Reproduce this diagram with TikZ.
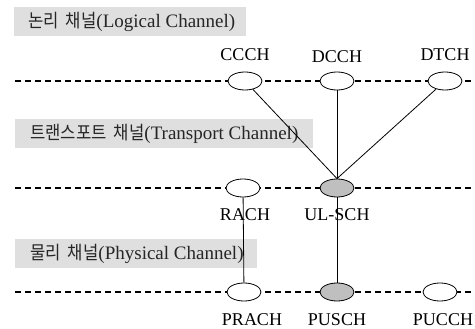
\documentclass[tikz,border=0pt]{standalone}
\usepackage{fontspec}
\usetikzlibrary{shapes.geometric}
\setmainfont{Liberation Serif}
\newfontfamily\kr[FakeStretch=0.9]{Noto Sans CJK KR}
\newcommand\krlabel[1]{{\kr\fontsize{18.5}{20}\selectfont\spaceskip=7pt #1}}
\begin{document}
\begin{tikzpicture}[x=1pt,y=-1pt,
  labelbox/.style={draw=none,fill=gray!25,minimum height=29pt,inner sep=0pt,anchor=north west},
  boxtext/.style={inner sep=0pt,anchor=west,font=\fontsize{19}{20}\selectfont,text=black!85},
  chan/.style={ellipse,draw,line width=0.8pt,fill=white,minimum width=34pt,minimum height=18pt,inner sep=0pt},
  shared/.style={chan,fill=gray!50},
  chlabel/.style={inner sep=0pt,font=\fontsize{18}{19}\selectfont},
  layer/.style={dashed,dash pattern=on 6pt off 4pt,line width=1.3pt},
  conn/.style={line width=0.8pt}]
\useasboundingbox (0,0) rectangle (475,329);
% label boxes
\node[labelbox,minimum width=232pt] (box1) at (14,7) {};
\node[boxtext] (t1) at ([xshift=14pt]box1.west) {\krlabel{논리 채널}(Logical Channel)};
\node[labelbox,minimum width=298pt] (box2) at (15,119) {};
\node[boxtext] (t2) at ([xshift=15pt]box2.west) {\krlabel{트랜스포트 채널}(Transport Channel)};
\node[labelbox,minimum width=242pt] (box3) at (15,239) {};
\node[boxtext] (t3) at ([xshift=15pt]box3.west) {\krlabel{물리 채널}(Physical Channel)};
% layer lines
\coordinate (l1a) at (15,81);  \coordinate (l1b) at (475,81);
\coordinate (l2a) at (15,188); \coordinate (l2b) at (475,188);
\coordinate (l3a) at (15,292); \coordinate (l3b) at (475,292);
\draw[layer] (l1a) -- (l1b);
\draw[layer] (l2a) -- (l2b);
\draw[layer] (l3a) -- (l3b);
% channels
\node[chan] (ccch) at (245,81) {};
\node[chan] (dcch) at (337,81) {};
\node[chan] (dtch) at (445,81) {};
\node[chan] (rach) at (243,188) {};
\node[shared] (ulsch) at (337,188) {};
\node[chan] (prach) at (244,292) {};
\node[shared] (pusch) at (337,292) {};
\node[chan] (pucch) at (440,292) {};
% labels
\node[chlabel] (lccch) at (245,55) {CCCH};
\node[chlabel] (ldcch) at (337,57) {DCCH};
\node[chlabel] (ldtch) at (445,55) {DTCH};
\node[chlabel] (lrach) at (245,215) {RACH};
\node[chlabel] (lulsch) at (337,215) {UL-SCH};
\node[chlabel] (lprach) at (252,320) {PRACH};
\node[chlabel] (lpusch) at (337,320) {PUSCH};
\node[chlabel] (lpucch) at (443,320) {PUCCH};
% connectors
\draw[conn] (ccch) -- (ulsch.north);
\draw[conn] (dcch) -- (ulsch);
\draw[conn] (dtch) -- (ulsch.north);
\draw[conn] (rach) -- (prach);
\draw[conn] (ulsch) -- (pusch);
\end{tikzpicture}
\end{document}
